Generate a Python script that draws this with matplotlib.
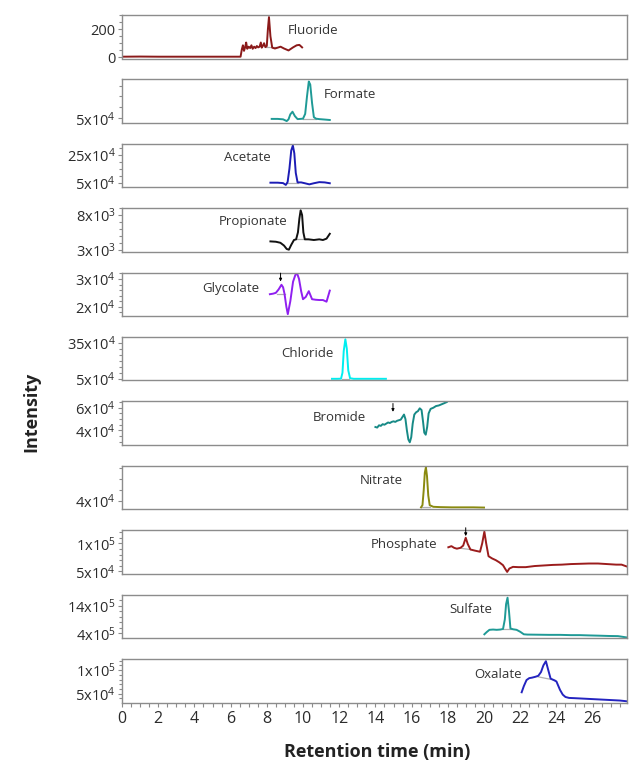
import matplotlib
matplotlib.use('Agg')
import matplotlib.pyplot as plt
from matplotlib.ticker import FixedLocator, MultipleLocator


plt.rcParams['font.family'] = ['Open Sans', 'DejaVu Sans']
plt.rcParams['mathtext.fontset'] = 'custom'
plt.rcParams['mathtext.rm'] = 'Open Sans'
plt.rcParams['mathtext.it'] = 'Open Sans:italic'
plt.rcParams['mathtext.bf'] = 'Open Sans:bold'

# ---- data (time in min, intensity) ----
names = ['Fluoride', 'Formate', 'Acetate', 'Propionate', 'Glycolate', 'Chloride',
         'Bromide', 'Nitrate', 'Phosphate', 'Sulfate', 'Oxalate']

fluoride_t = [0.0, 1.0, 2.0, 3.0, 4.0, 5.0, 6.0, 6.55, 6.62, 6.68, 6.74, 6.8, 6.86, 6.92,
              7.0, 7.08, 7.15, 7.22, 7.3, 7.38, 7.45, 7.52, 7.6, 7.67, 7.72, 7.78, 7.85,
              7.92, 8.0, 8.06, 8.12, 8.2, 8.3, 8.45, 8.6, 8.76, 8.95, 9.2, 9.45, 9.65,
              9.8, 9.95]
fluoride_v = [3, 4, 3, 3, 3, 3, 3, 3, 55, 85, 45, 70, 105, 60, 75, 65, 85, 60, 75, 65, 80,
              70, 75, 105, 68, 80, 100, 72, 80, 200, 288, 150, 68, 62, 68, 75, 62, 48, 70,
              85, 88, 70]

formate_t = [8.27, 8.6, 8.9, 9.1, 9.2, 9.3, 9.42, 9.55, 9.7, 9.85, 10.0, 10.12, 10.22,
             10.32, 10.4, 10.5, 10.6, 10.72, 10.9, 11.2, 11.48]
formate_v = [4.7e4, 4.7e4, 4.5e4, 3.7e4, 4.5e4, 6.8e4, 8.0e4, 6.0e4, 4.6e4, 4.7e4, 4.8e4,
             7.0e4, 15.0e4, 21.9e4, 20.5e4, 12.0e4, 5.5e4, 4.8e4, 4.6e4, 4.4e4, 4.2e4]

acetate_t = [8.2, 8.6, 8.9, 9.05, 9.15, 9.25, 9.35, 9.44, 9.52, 9.6, 9.7, 9.9, 10.1, 10.35,
             10.6, 10.9, 11.2, 11.48]
acetate_v = [5.0e4, 5.0e4, 4.7e4, 3.4e4, 5.5e4, 15.0e4, 28.0e4, 31.6e4, 26.0e4, 12.0e4,
             5.2e4, 5.2e4, 4.6e4, 3.8e4, 4.6e4, 5.4e4, 5.2e4, 4.6e4]

propionate_t = [8.2, 8.5, 8.75, 8.95, 9.1, 9.22, 9.35, 9.5, 9.62, 9.72, 9.8, 9.87, 9.95,
                10.02, 10.1, 10.3, 10.6, 10.9, 11.1, 11.3, 11.48]
propionate_v = [4.2e3, 4.15e3, 4.0e3, 3.6e3, 3.1e3, 3.0e3, 3.7e3, 4.4e3, 4.5e3, 5.5e3,
                7.5e3, 8.7e3, 8.0e3, 5.5e3, 4.5e3, 4.5e3, 4.4e3, 4.5e3, 4.4e3, 4.6e3, 5.3e3]

glycolate_t = [8.17, 8.35, 8.5, 8.65, 8.81, 8.9, 8.98, 9.08, 9.16, 9.3, 9.45, 9.58, 9.68,
               9.78, 9.9, 10.0, 10.15, 10.32, 10.42, 10.5, 10.7, 10.9, 11.1, 11.3, 11.48]
glycolate_v = [2.45e4, 2.47e4, 2.5e4, 2.62e4, 2.79e4, 2.7e4, 2.46e4, 2.0e4, 1.73e4, 2.2e4,
               2.9e4, 3.15e4, 3.19e4, 3.0e4, 2.55e4, 2.27e4, 2.35e4, 2.56e4, 2.4e4, 2.27e4,
               2.25e4, 2.24e4, 2.24e4, 2.18e4, 2.58e4]

chloride_t = [11.6, 11.9, 12.1, 12.18, 12.25, 12.34, 12.42, 12.5, 12.6, 12.8, 13.2, 13.6,
              14.0, 14.3, 14.58]
chloride_v = [5.0e4, 5.0e4, 5.1e4, 10.0e4, 28.0e4, 37.8e4, 30.0e4, 12.0e4, 5.5e4, 5.0e4,
              5.0e4, 5.0e4, 5.0e4, 5.0e4, 5.0e4]

bromide_t = [14.0, 14.1, 14.2, 14.3, 14.4, 14.5, 14.6, 14.7, 14.8, 14.9, 15.0, 15.1, 15.2,
             15.3, 15.4, 15.5, 15.58, 15.66, 15.74, 15.82, 15.9, 15.98, 16.06, 16.15, 16.25,
             16.35, 16.45, 16.55, 16.63, 16.7, 16.78, 16.86, 16.94, 17.05, 17.2, 17.35,
             17.5, 17.65, 17.8, 17.94]
bromide_v = [4.3e4, 4.25e4, 4.45e4, 4.4e4, 4.55e4, 4.5e4, 4.6e4, 4.7e4, 4.65e4, 4.75e4,
             4.8e4, 4.75e4, 4.85e4, 4.9e4, 4.95e4, 5.2e4, 5.4e4, 5.0e4, 4.0e4, 3.2e4,
             2.95e4, 3.4e4, 4.6e4, 5.4e4, 5.6e4, 5.7e4, 5.95e4, 5.8e4, 4.8e4, 3.8e4,
             3.62e4, 4.3e4, 5.5e4, 5.9e4, 6.0e4, 6.15e4, 6.2e4, 6.3e4, 6.4e4, 6.5e4]

nitrate_t = [16.52, 16.6, 16.67, 16.73, 16.79, 16.85, 16.92, 17.0, 17.2, 17.6, 18.2, 18.8,
             19.4, 20.0]
nitrate_v = [3.4e4, 3.6e4, 5.0e4, 6.6e4, 7.1e4, 6.3e4, 4.5e4, 3.6e4, 3.45e4, 3.42e4,
             3.4e4, 3.4e4, 3.4e4, 3.38e4]

phosphate_t = [18.03, 18.2, 18.35, 18.5, 18.7, 18.85, 18.99, 19.1, 19.25, 19.5, 19.78,
               19.9, 20.02, 20.12, 20.25, 20.45, 20.65, 20.85, 21.05, 21.18, 21.28, 21.4,
               21.6, 21.9, 22.3, 22.8, 23.3, 23.8, 24.3, 24.8, 25.3, 25.8, 26.3, 26.8,
               27.3, 27.6, 27.86]
phosphate_v = [9.3e4, 9.5e4, 9.2e4, 9.05e4, 9.2e4, 9.6e4, 11.0e4, 9.9e4, 8.9e4, 8.7e4,
               8.5e4, 10.0e4, 12.1e4, 10.0e4, 7.7e4, 7.3e4, 7.0e4, 6.6e4, 6.1e4, 5.4e4,
               4.9e4, 5.5e4, 5.8e4, 5.75e4, 5.75e4, 5.95e4, 6.05e4, 6.15e4, 6.2e4, 6.3e4,
               6.35e4, 6.4e4, 6.4e4, 6.3e4, 6.2e4, 6.2e4, 5.9e4]

sulfate_t = [20.02, 20.15, 20.3, 20.5, 20.7, 20.9, 21.05, 21.15, 21.22, 21.3, 21.38, 21.46,
             21.6, 21.8, 22.0, 22.2, 22.4, 23.0, 23.6, 24.2, 24.8, 25.3, 25.8, 26.4, 26.9,
             27.4, 27.86]
sulfate_v = [3.7e5, 4.5e5, 5.3e5, 5.4e5, 5.3e5, 5.4e5, 5.6e5, 9.0e5, 14.5e5, 16.8e5,
             12.0e5, 5.8e5, 5.5e5, 5.3e5, 4.6e5, 3.7e5, 3.6e5, 3.55e5, 3.5e5, 3.5e5, 3.4e5,
             3.4e5, 3.3e5, 3.2e5, 3.1e5, 3.05e5, 2.6e5]

oxalate_t = [22.08, 22.2, 22.35, 22.5, 22.65, 22.85, 23.0, 23.15, 23.28, 23.42, 23.55,
             23.68, 23.85, 24.0, 24.2, 24.35, 24.5, 24.7, 25.0, 25.5, 26.0, 26.5, 27.0,
             27.5, 27.86]
oxalate_v = [5.3e4, 6.6e4, 7.9e4, 8.3e4, 8.4e4, 8.6e4, 8.8e4, 9.6e4, 11.0e4, 11.9e4,
             10.0e4, 8.2e4, 7.9e4, 7.6e4, 5.8e4, 4.8e4, 4.3e4, 4.1e4, 4.05e4, 3.95e4,
             3.85e4, 3.75e4, 3.65e4, 3.55e4, 3.4e4]

# peak baselines (start t, end t, start value, end value)
baselines = [
    (7.9, 8.5, 70, 70),
    (10.0, 10.7, 4.8e4, 4.8e4),
    (9.1, 9.7, 5.0e4, 5.0e4),
    (9.6, 10.3, 4.5e3, 4.5e3),
    (8.55, 9.0, 2.47e4, 2.47e4),
    (12.15, 12.55, 5.0e4, 5.0e4),
    None,
    (16.52, 17.0, 3.4e4, 3.4e4),
    (18.75, 19.25, 9.1e4, 8.9e4),
    (21.05, 21.5, 5.5e5, 5.5e5),
    (22.99, 23.92, 8.58e4, 7.86e4),
]

# arrows marking small peaks: (panel index, time, value at arrow tip)
arrows = [(4, 8.76, 2.91e4), (6, 14.97, 5.64e4), (8, 18.99, 11.3e4)]

ylims = [(-10, 303), (2.86e4, 22.86e4), (1.7e4, 32.8e4), (2.71e3, 9.0e3), (1.66e4, 3.23e4),
         (3.6e4, 39.7e4), (2.72e4, 6.56e4), (3.22e4, 7.24e4), (4.58e4, 1.235e5),
         (2.34e5, 17.9e5), (3.13e4, 1.236e5)]
major_vals = [[0, 200], [5e4], [5e4, 25e4], [3e3, 8e3], [2e4, 3e4], [5e4, 35e4],
              [4e4, 6e4], [4e4], [5e4, 1e5], [4e5, 14e5], [5e4, 1e5]]
major_labels = [['0', '200'], [('5', 4)], [('5', 4), ('25', 4)], [('3', 3), ('8', 3)],
                [('2', 4), ('3', 4)], [('5', 4), ('35', 4)], [('4', 4), ('6', 4)],
                [('4', 4)], [('5', 4), ('1', 5)], [('4', 5), ('14', 5)],
                [('5', 4), ('1', 5)]]
minor_steps = [50, 5e4, 5e4, 1e3, 2e3, 5e4, 5e3, 1e4, 1e4, 2e5, 1e4]

colors = ['#8b1a1a', '#1f9a96', '#1d1db5', '#111111', '#9020f0', '#00eef0',
          '#178a86', '#8a8a10', '#9b1c1c', '#1f9a96', '#2424c0']

times = [fluoride_t, formate_t, acetate_t, propionate_t, glycolate_t, chloride_t,
         bromide_t, nitrate_t, phosphate_t, sulfate_t, oxalate_t]
values = [fluoride_v, formate_v, acetate_v, propionate_v, glycolate_v, chloride_v,
          bromide_v, nitrate_v, phosphate_v, sulfate_v, oxalate_v]

label_pos = [(9.15, 0.64), (11.14, 0.66), (5.61, 0.68), (5.33, 0.69), (4.44, 0.64),
             (8.81, 0.63), (10.54, 0.63), (13.13, 0.67), (13.73, 0.68), (18.07, 0.66),
             (19.48, 0.65)]


def tick_text(lab):
    if isinstance(lab, str):
        return lab
    m, e = lab
    return r'$\mathregular{%sx10^{%d}}$' % (m, e)


W, H = 629, 762
fig = plt.figure(figsize=(W / 100, H / 100), dpi=100)
fig.patch.set_facecolor('white')

spine_col = '#8c8c8c'
left_px, right_px = 122, 627
axes = []
for i in range(len(names)):
    top_px = 15 + 64.4 * i
    h_px = 43.5
    ax = fig.add_axes([left_px / W, 1 - (top_px + h_px) / H,
                       (right_px - left_px) / W, h_px / H])
    axes.append(ax)

    ax.plot(times[i], values[i], color=colors[i], lw=1.4, solid_joinstyle='round')
    if baselines[i] is not None:
        t0, t1, v0, v1 = baselines[i]
        ax.plot([t0, t1], [v0, v1], color='#b0b0b0', lw=0.9, zorder=1)

    ax.set_xlim(0, 27.9)
    ax.set_ylim(*ylims[i])
    ax.yaxis.set_major_locator(FixedLocator(major_vals[i]))
    ax.set_yticklabels([tick_text(l) for l in major_labels[i]])
    ax.yaxis.set_minor_locator(MultipleLocator(minor_steps[i]))
    ax.tick_params(axis='y', which='both', direction='out', colors=spine_col,
                   labelcolor='#2b2b2b', labelsize=10.5, pad=1.5, width=0.8)
    ax.tick_params(axis='y', which='major', length=3)
    ax.tick_params(axis='y', which='minor', length=2.5)
    for s in ax.spines.values():
        s.set_color(spine_col)
        s.set_linewidth(1.0)

    lx, ly = label_pos[i]
    ax.text(lx, ly, names[i], transform=ax.get_xaxis_transform(), fontsize=9.5,
            color='#333333', ha='left', va='center')

    if i < len(names) - 1:
        ax.tick_params(axis='x', which='both', bottom=False, labelbottom=False)
    else:
        ax.xaxis.set_major_locator(MultipleLocator(2))
        ax.xaxis.set_minor_locator(MultipleLocator(0.5))
        ax.tick_params(axis='x', which='both', direction='out', colors=spine_col,
                       labelcolor='#2b2b2b', labelsize=11.5, length=3, width=0.8, pad=3)

for idx, t, v in arrows:
    axes[idx].annotate('', xy=(t, v), xytext=(0, 6), textcoords='offset points',
                       xycoords='data',
                       arrowprops=dict(arrowstyle='-|>', color='black', lw=0.7,
                                       mutation_scale=4, shrinkA=0, shrinkB=0))

fig.text(31 / W, 1 - 412 / H, 'Intensity', rotation=90, ha='center', va='center',
         fontsize=13, fontweight='bold', color='#222222')
fig.text(377 / W, 1 - 752 / H, 'Retention time (min)', ha='center', va='center',
         fontsize=13, fontweight='bold', color='#222222')

fig.savefig('out.png', dpi=100, facecolor='white')
